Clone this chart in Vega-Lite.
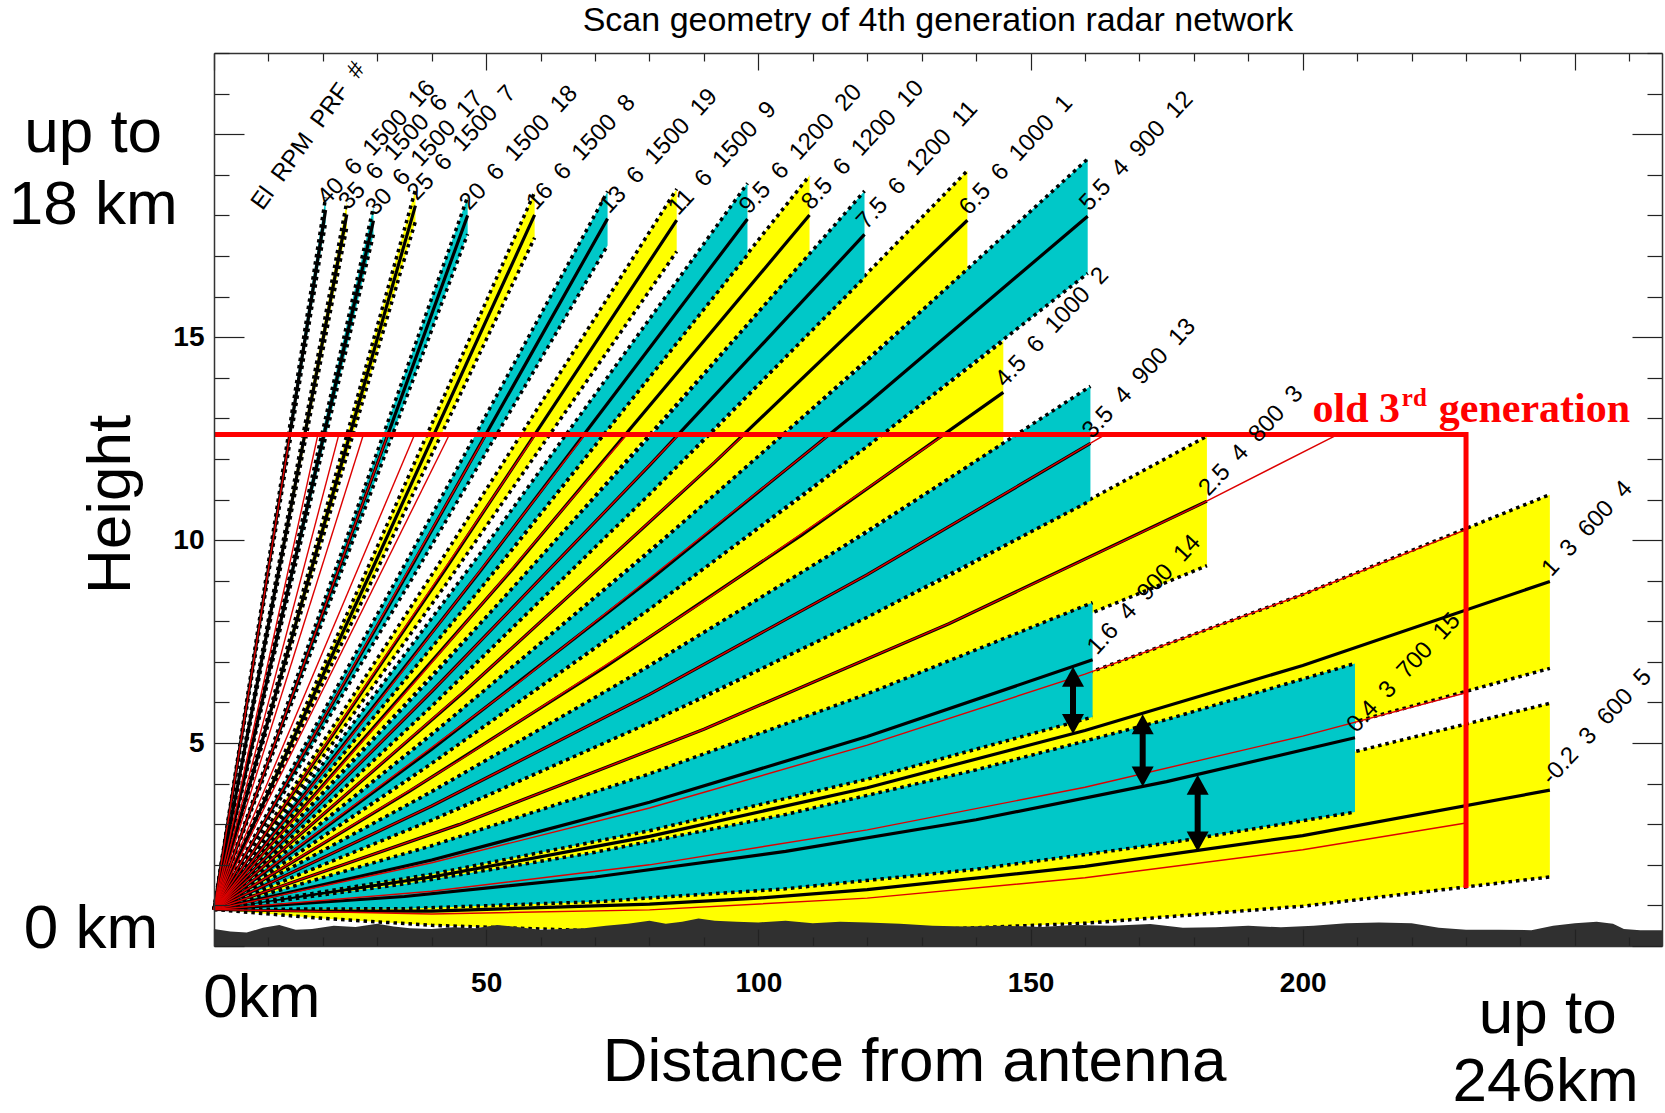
{
"$schema": "https://vega.github.io/schema/vega-lite/v6.json",
"width": 1448, "height": 893,
"autosize": "none",
"padding": {"left": 214, "top": 53, "right": 3, "bottom": 167},
"background": "white",
"config": {"view": {"stroke": null}, "font": "Liberation Sans"},
"datasets": {
"beams": [
{"b":"40","c":"c","x":0,"lo":0.9,"m":0.9,"hi":0.9},{"b":"40","c":"c","x":20.5,"lo":17.83,"m":18.13,"hi":18.44},
{"b":"35","c":"y","x":0,"lo":0.9,"m":0.9,"hi":0.9},{"b":"35","c":"y","x":24.4,"lo":17.71,"m":18.02,"hi":18.34},
{"b":"30","c":"c","x":0,"lo":0.9,"m":0.9,"hi":0.9},{"b":"30","c":"c","x":29.3,"lo":17.53,"m":17.87,"hi":18.21},
{"b":"25","c":"y","x":0,"lo":0.9,"m":0.9,"hi":0.9},{"b":"25","c":"y","x":37.0,"lo":17.85,"m":18.24,"hi":18.63},
{"b":"20","c":"c","x":0,"lo":0.9,"m":0.9,"hi":0.9},{"b":"20","c":"c","x":23.3,"lo":9.19,"m":9.42,"hi":9.65},{"b":"20","c":"c","x":46.6,"lo":17.54,"m":18.0,"hi":18.46},
{"b":"16","c":"y","x":0,"lo":0.9,"m":0.9,"hi":0.9},{"b":"16","c":"y","x":29.5,"lo":9.14,"m":9.41,"hi":9.69},{"b":"16","c":"y","x":58.9,"lo":17.45,"m":18.01,"hi":18.57},
{"b":"13","c":"c","x":0,"lo":0.9,"m":0.9,"hi":0.9},{"b":"13","c":"c","x":36,"lo":8.96,"m":9.29,"hi":9.63},{"b":"13","c":"c","x":72.3,"lo":17.26,"m":17.92,"hi":18.59},
{"b":"11","c":"y","x":0,"lo":0.9,"m":0.9,"hi":0.9},{"b":"11","c":"y","x":42.5,"lo":8.89,"m":9.28,"hi":9.66},{"b":"11","c":"y","x":85,"lo":17.11,"m":17.88,"hi":18.65},
{"b":"9.5","c":"c","x":0,"lo":0.9,"m":0.9,"hi":0.9},{"b":"9.5","c":"c","x":49,"lo":8.81,"m":9.25,"hi":9.69},{"b":"9.5","c":"c","x":98,"lo":17.03,"m":17.91,"hi":18.79},
{"b":"8.5","c":"y","x":0,"lo":0.9,"m":0.9,"hi":0.9},{"b":"8.5","c":"y","x":55,"lo":8.82,"m":9.31,"hi":9.8},{"b":"8.5","c":"y","x":109.4,"lo":17.03,"m":18.01,"hi":18.98},
{"b":"7.5","c":"c","x":0,"lo":0.9,"m":0.9,"hi":0.9},{"b":"7.5","c":"c","x":40,"lo":5.91,"m":6.27,"hi":6.62},{"b":"7.5","c":"c","x":80,"lo":11.13,"m":11.84,"hi":12.55},{"b":"7.5","c":"c","x":119.5,"lo":16.47,"m":17.53,"hi":18.6},
{"b":"6.5","c":"y","x":0,"lo":0.9,"m":0.9,"hi":0.9},{"b":"6.5","c":"y","x":46,"lo":5.87,"m":6.27,"hi":6.68},{"b":"6.5","c":"y","x":92,"lo":11.1,"m":11.92,"hi":12.73},{"b":"6.5","c":"y","x":138.4,"lo":16.65,"m":17.88,"hi":19.1},
{"b":"5.5","c":"c","x":0,"lo":0.9,"m":0.9,"hi":0.9},{"b":"5.5","c":"c","x":40,"lo":4.5,"m":4.85,"hi":5.21},{"b":"5.5","c":"c","x":80,"lo":8.3,"m":9.01,"hi":9.71},{"b":"5.5","c":"c","x":120,"lo":12.31,"m":13.36,"hi":14.42},{"b":"5.5","c":"c","x":160.5,"lo":16.57,"m":17.98,"hi":19.39},
{"b":"4.5","c":"y","x":0,"lo":0.9,"m":0.9,"hi":0.9},{"b":"4.5","c":"y","x":36,"lo":3.5,"m":3.82,"hi":4.13},{"b":"4.5","c":"y","x":72,"lo":6.26,"m":6.89,"hi":7.53},{"b":"4.5","c":"y","x":108,"lo":9.19,"m":10.13,"hi":11.08},{"b":"4.5","c":"y","x":145,"lo":12.37,"m":13.64,"hi":14.91},
{"b":"3.5","c":"c","x":0,"lo":0.9,"m":0.9,"hi":0.9},{"b":"3.5","c":"c","x":40,"lo":3.1,"m":3.45,"hi":3.8},{"b":"3.5","c":"c","x":80,"lo":5.5,"m":6.2,"hi":6.9},{"b":"3.5","c":"c","x":120,"lo":8.1,"m":9.15,"hi":10.2},{"b":"3.5","c":"c","x":161,"lo":10.97,"m":12.38,"hi":13.79},
{"b":"2.5","c":"y","x":0,"lo":0.9,"m":0.9,"hi":0.9},{"b":"2.5","c":"y","x":45,"lo":2.6,"m":2.99,"hi":3.39},{"b":"2.5","c":"y","x":90,"lo":4.55,"m":5.34,"hi":6.13},{"b":"2.5","c":"y","x":135,"lo":6.76,"m":7.94,"hi":9.12},{"b":"2.5","c":"y","x":182.4,"lo":9.37,"m":10.96,"hi":12.56},
{"b":"1.6","c":"c","x":0,"lo":0.9,"m":0.9,"hi":0.9},{"b":"1.6","c":"c","x":40,"lo":1.77,"m":2.12,"hi":2.47},{"b":"1.6","c":"c","x":80,"lo":2.84,"m":3.54,"hi":4.24},{"b":"1.6","c":"c","x":120,"lo":4.11,"m":5.16,"hi":6.21},{"b":"1.6","c":"c","x":161.4,"lo":5.64,"m":7.05,"hi":8.46},
{"b":"1.0","c":"y","x":0,"lo":0.9,"m":0.9,"hi":0.9},{"b":"1.0","c":"y","x":40,"lo":1.35,"m":1.7,"hi":2.05},{"b":"1.0","c":"y","x":80,"lo":2.0,"m":2.7,"hi":3.4},{"b":"1.0","c":"y","x":120,"lo":2.86,"m":3.9,"hi":4.95},{"b":"1.0","c":"y","x":160,"lo":3.91,"m":5.31,"hi":6.7},{"b":"1.0","c":"y","x":200,"lo":5.17,"m":6.91,"hi":8.66},{"b":"1.0","c":"y","x":245.4,"lo":6.84,"m":8.98,"hi":11.12},
{"b":"0.4","c":"c","x":0,"lo":0.9,"m":0.9,"hi":0.9},{"b":"0.4","c":"c","x":35,"lo":0.92,"m":1.22,"hi":1.53},{"b":"0.4","c":"c","x":70,"lo":1.09,"m":1.7,"hi":2.31},{"b":"0.4","c":"c","x":105,"lo":1.41,"m":2.33,"hi":3.24},{"b":"0.4","c":"c","x":140,"lo":1.89,"m":3.11,"hi":4.34},{"b":"0.4","c":"c","x":175,"lo":2.53,"m":4.05,"hi":5.58},{"b":"0.4","c":"c","x":209.6,"lo":3.3,"m":5.13,"hi":6.96},
{"b":"-0.2","c":"y","x":0,"lo":0.9,"m":0.9,"hi":0.9},{"b":"-0.2","c":"y","x":20,"lo":0.68,"m":0.86,"hi":1.04},{"b":"-0.2","c":"y","x":40,"lo":0.51,"m":0.86,"hi":1.21},{"b":"-0.2","c":"y","x":80,"lo":0.33,"m":1.03,"hi":1.72},{"b":"-0.2","c":"y","x":100,"lo":0.31,"m":1.18,"hi":2.05},{"b":"-0.2","c":"y","x":120,"lo":0.34,"m":1.39,"hi":2.44},{"b":"-0.2","c":"y","x":160,"lo":0.56,"m":1.96,"hi":3.35},{"b":"-0.2","c":"y","x":200,"lo":0.98,"m":2.72,"hi":4.47},{"b":"-0.2","c":"y","x":245.4,"lo":1.7,"m":3.84,"hi":5.98}
],
"red": [
{"e":"-0.3","x":0,"h":0.9},{"e":"-0.3","x":40,"h":0.79},{"e":"-0.3","x":80,"h":0.89},{"e":"-0.3","x":120,"h":1.18},{"e":"-0.3","x":160,"h":1.68},{"e":"-0.3","x":200,"h":2.37},{"e":"-0.3","x":230,"h":3.03},
{"e":"0.5","x":0,"h":0.9},{"e":"0.5","x":40,"h":1.35},{"e":"0.5","x":80,"h":2.0},{"e":"0.5","x":120,"h":2.86},{"e":"0.5","x":160,"h":3.91},{"e":"0.5","x":200,"h":5.17},{"e":"0.5","x":230,"h":6.24},
{"e":"1.5","x":0,"h":0.9},{"e":"1.5","x":40,"h":2.05},{"e":"1.5","x":80,"h":3.4},{"e":"1.5","x":120,"h":4.95},{"e":"1.5","x":160,"h":6.7},{"e":"1.5","x":200,"h":8.66},{"e":"1.5","x":230,"h":10.26},
{"e":"2.5","x":0,"h":0.9},{"e":"2.5","x":45,"h":2.99},{"e":"2.5","x":90,"h":5.34},{"e":"2.5","x":135,"h":7.94},{"e":"2.5","x":180,"h":10.8},{"e":"2.5","x":206.4,"h":12.6},
{"e":"3.5","x":0,"h":0.9},{"e":"3.5","x":40,"h":3.45},{"e":"3.5","x":80,"h":6.2},{"e":"3.5","x":120,"h":9.15},{"e":"3.5","x":163.7,"h":12.6},
{"e":"4.5","x":0,"h":0.9},{"e":"4.5","x":45,"h":4.57},{"e":"4.5","x":90,"h":8.49},{"e":"4.5","x":134.2,"h":12.6},
{"e":"5.5","x":0,"h":0.9},{"e":"5.5","x":56,"h":6.49},{"e":"5.5","x":113.1,"h":12.6},
{"e":"6.5","x":0,"h":0.9},{"e":"6.5","x":48.7,"h":6.6},{"e":"6.5","x":97.45,"h":12.6},
{"e":"7.5","x":0,"h":0.9},{"e":"7.5","x":42.7,"h":6.64},{"e":"7.5","x":85.4,"h":12.6},
{"e":"8.5","x":0,"h":0.9},{"e":"8.5","x":38,"h":6.67},{"e":"8.5","x":75.85,"h":12.6},
{"e":"9.5","x":0,"h":0.9},{"e":"9.5","x":34,"h":6.66},{"e":"9.5","x":68.15,"h":12.6},
{"e":"11","x":0,"h":0.9},{"e":"11","x":59.05,"h":12.6},
{"e":"13","x":0,"h":0.9},{"e":"13","x":50.0,"h":12.6},
{"e":"15","x":0,"h":0.9},{"e":"15","x":43.25,"h":12.6},
{"e":"17.5","x":0,"h":0.9},{"e":"17.5","x":36.85,"h":12.6},
{"e":"20","x":0,"h":0.9},{"e":"20","x":31.95,"h":12.6},
{"e":"23","x":0,"h":0.9},{"e":"23","x":27.45,"h":12.6},
{"e":"27","x":0,"h":0.9},{"e":"27","x":22.93,"h":12.6},
{"e":"31.5","x":0,"h":0.9},{"e":"31.5","x":19.09,"h":12.6},
{"e":"40","x":0,"h":0.9},{"e":"40","x":13.94,"h":12.6}
],
"terrain": [
{"x":0,"h":0.42},{"x":3,"h":0.36},{"x":6,"h":0.33},{"x":9,"h":0.45},{"x":12,"h":0.52},{"x":15,"h":0.4},{"x":18,"h":0.42},{"x":22,"h":0.5},{"x":26,"h":0.47},{"x":30,"h":0.55},{"x":33,"h":0.48},{"x":36,"h":0.44},{"x":40,"h":0.42},{"x":44,"h":0.46},{"x":48,"h":0.44},{"x":52,"h":0.52},{"x":56,"h":0.46},{"x":60,"h":0.4},{"x":64,"h":0.42},{"x":68,"h":0.44},{"x":72,"h":0.5},{"x":76,"h":0.55},{"x":80,"h":0.62},{"x":83,"h":0.55},{"x":86,"h":0.6},{"x":89,"h":0.68},{"x":92,"h":0.62},{"x":96,"h":0.6},{"x":100,"h":0.58},{"x":105,"h":0.62},{"x":110,"h":0.56},{"x":115,"h":0.6},{"x":120,"h":0.58},{"x":126,"h":0.55},{"x":132,"h":0.5},{"x":138,"h":0.48},{"x":145,"h":0.5},{"x":152,"h":0.47},{"x":158,"h":0.52},{"x":165,"h":0.5},{"x":172,"h":0.54},{"x":178,"h":0.45},{"x":184,"h":0.46},{"x":190,"h":0.5},{"x":196,"h":0.46},{"x":202,"h":0.5},{"x":208,"h":0.56},{"x":214,"h":0.58},{"x":220,"h":0.56},{"x":225,"h":0.45},{"x":230,"h":0.4},{"x":236,"h":0.4},{"x":242,"h":0.39},{"x":246,"h":0.5},{"x":250,"h":0.56},{"x":254,"h":0.6},{"x":257,"h":0.55},{"x":259,"h":0.42},{"x":262,"h":0.39},{"x":266,"h":0.39}
],
"labels": [
{"t":"40\u00a0\u00a06\u00a0\u00a01500\u00a0\u00a016","x":20.8,"y":18.23},
{"t":"35\u00a0\u00a06\u00a0\u00a01500\u00a0\u00a06","x":24.7,"y":18.12},
{"t":"30\u00a0\u00a06\u00a0\u00a01500\u00a0\u00a017","x":29.6,"y":17.97},
{"t":"25\u00a0\u00a06\u00a0\u00a01500\u00a0\u00a07","x":37.3,"y":18.34},
{"t":"20\u00a0\u00a06\u00a0\u00a01500\u00a0\u00a018","x":46.9,"y":18.1},
{"t":"16\u00a0\u00a06\u00a0\u00a01500\u00a0\u00a08","x":59.2,"y":18.11},
{"t":"13\u00a0\u00a06\u00a0\u00a01500\u00a0\u00a019","x":72.6,"y":18.02},
{"t":"11\u00a0\u00a06\u00a0\u00a01500\u00a0\u00a09","x":85.3,"y":17.98},
{"t":"9.5\u00a0\u00a06\u00a0\u00a01200\u00a0\u00a020","x":98.3,"y":18.01},
{"t":"8.5\u00a0\u00a06\u00a0\u00a01200\u00a0\u00a010","x":109.7,"y":18.11},
{"t":"7.5\u00a0\u00a06\u00a0\u00a01200\u00a0\u00a011","x":119.8,"y":17.63},
{"t":"6.5\u00a0\u00a06\u00a0\u00a01000\u00a0\u00a01","x":138.7,"y":17.98},
{"t":"5.5\u00a0\u00a04\u00a0\u00a0900\u00a0\u00a012","x":160.8,"y":18.08},
{"t":"4.5\u00a0\u00a06\u00a0\u00a01000\u00a0\u00a02","x":145.3,"y":13.74},
{"t":"3.5\u00a0\u00a04\u00a0\u00a0900\u00a0\u00a013","x":161.3,"y":12.48},
{"t":"2.5\u00a0\u00a04\u00a0\u00a0800\u00a0\u00a03","x":182.7,"y":11.06},
{"t":"1.6\u00a0\u00a04\u00a0\u00a0900\u00a0\u00a014","x":162.2,"y":7.15},
{"t":"1\u00a0\u00a03\u00a0\u00a0600\u00a0\u00a04","x":245.7,"y":9.08},
{"t":"0.4\u00a0\u00a03\u00a0\u00a0700\u00a0\u00a015","x":209.9,"y":5.23},
{"t":"-0.2\u00a0\u00a03\u00a0\u00a0600\u00a0\u00a05","x":245.7,"y":3.94}
],
"arrows": [
{"x":157.8,"lo":5.22,"hi":6.88,"slo":5.57,"shi":6.53},
{"x":170.6,"lo":3.93,"hi":5.71,"slo":4.28,"shi":5.36},
{"x":180.7,"lo":2.33,"hi":4.22,"slo":2.68,"shi":3.87}
],
"box": [{"x":0,"y":12.6,"o":1},{"x":230,"y":12.6,"o":2},{"x":230,"y":1.43,"o":3}],
"big": [
{"t":"up to","x":-22.2,"y":20.03},
{"t":"18 km","x":-22.2,"y":18.25},
{"t":"0 km","x":-22.6,"y":0.42},
{"t":"0km","x":8.8,"y":-1.28},
{"t":"up to","x":245.0,"y":-1.67},
{"t":"246km","x":244.6,"y":-3.36},
{"t":"Distance from antenna","x":128.7,"y":-2.86}
]
},
"layer": [
{"data":{"name":"beams"},"transform":[{"filter":"datum.c === 'y'"}],
 "mark":{"type":"area","color":"#ffff00","opacity":1},
 "encoding":{
  "x":{"field":"x","type":"quantitative","scale":{"domain":[0,266],"nice":false,"zero":false},
   "axis":{"orient":"bottom","values":[0,10,20,30,40,50,60,70,80,90,100,110,120,130,140,150,160,170,180,190,200,210,220,230,240,250,260],
    "tickSize":{"condition":{"test":"datum.value % 50 === 0","value":-17},"value":-9},
    "labelExpr":"(datum.value==50||datum.value==100||datum.value==150||datum.value==200) ? datum.label : ''",
    "labelFont":"Liberation Sans","labelFontSize":28,"labelFontWeight":"bold","labelColor":"#000","labelPadding":40,
    "labelOverlap":false,"labelFlush":false,"title":null,"grid":false,
    "domainColor":"#333","domainWidth":1.5,"tickColor":"#222","tickWidth":1.2,"zindex":1}},
  "y":{"field":"hi","type":"quantitative","scale":{"domain":[0,22],"nice":false,"zero":false},
   "axis":{"orient":"left","values":[0,1,2,3,4,5,6,7,8,9,10,11,12,13,14,15,16,17,18,19,20,21,22],
    "tickSize":{"condition":{"test":"datum.value % 5 === 0","value":-30},"value":-15},
    "labelExpr":"(datum.value==5||datum.value==10||datum.value==15) ? datum.label : ''",
    "labelFont":"Liberation Sans","labelFontSize":28,"labelFontWeight":"bold","labelColor":"#000","labelPadding":40,
    "labelOverlap":false,"labelFlush":false,"title":null,"grid":false,
    "domainColor":"#333","domainWidth":1.5,"tickColor":"#222","tickWidth":1.2,"zindex":1}},
  "y2":{"field":"lo"},
  "detail":{"field":"b"}}},
{"data":{"name":"beams"},"transform":[{"filter":"datum.c === 'y'"}],
 "mark":{"type":"line","color":"#000","strokeWidth":3.5,"strokeDash":[3.5,4]},
 "encoding":{"x":{"field":"x","type":"quantitative","scale":{"domain":[0,266],"nice":false,"zero":false},"axis":null},
  "y":{"field":"hi","type":"quantitative","scale":{"domain":[0,22],"nice":false,"zero":false},"axis":null},"detail":{"field":"b"}}},
{"data":{"name":"beams"},"transform":[{"filter":"datum.c === 'y'"}],
 "mark":{"type":"line","color":"#000","strokeWidth":3.5,"strokeDash":[3.5,4]},
 "encoding":{"x":{"field":"x","type":"quantitative","scale":{"domain":[0,266],"nice":false,"zero":false},"axis":null},
  "y":{"field":"lo","type":"quantitative","scale":{"domain":[0,22],"nice":false,"zero":false},"axis":null},"detail":{"field":"b"}}},
{"data":{"name":"beams"},"transform":[{"filter":"datum.c === 'y'"}],
 "mark":{"type":"line","color":"#000","strokeWidth":3.2},
 "encoding":{"x":{"field":"x","type":"quantitative","scale":{"domain":[0,266],"nice":false,"zero":false},"axis":null},
  "y":{"field":"m","type":"quantitative","scale":{"domain":[0,22],"nice":false,"zero":false},"axis":null},"detail":{"field":"b"}}},
{"data":{"name":"beams"},"transform":[{"filter":"datum.c === 'c'"}],
 "mark":{"type":"area","color":"#00c8c8","opacity":1},
 "encoding":{"x":{"field":"x","type":"quantitative","scale":{"domain":[0,266],"nice":false,"zero":false},"axis":null},
  "y":{"field":"hi","type":"quantitative","scale":{"domain":[0,22],"nice":false,"zero":false},"axis":null},
  "y2":{"field":"lo"},"detail":{"field":"b"}}},
{"data":{"name":"beams"},"transform":[{"filter":"datum.c === 'c'"}],
 "mark":{"type":"line","color":"#000","strokeWidth":3.5,"strokeDash":[3.5,4]},
 "encoding":{"x":{"field":"x","type":"quantitative","scale":{"domain":[0,266],"nice":false,"zero":false},"axis":null},
  "y":{"field":"hi","type":"quantitative","scale":{"domain":[0,22],"nice":false,"zero":false},"axis":null},"detail":{"field":"b"}}},
{"data":{"name":"beams"},"transform":[{"filter":"datum.c === 'c'"}],
 "mark":{"type":"line","color":"#000","strokeWidth":3.5,"strokeDash":[3.5,4]},
 "encoding":{"x":{"field":"x","type":"quantitative","scale":{"domain":[0,266],"nice":false,"zero":false},"axis":null},
  "y":{"field":"lo","type":"quantitative","scale":{"domain":[0,22],"nice":false,"zero":false},"axis":null},"detail":{"field":"b"}}},
{"data":{"name":"beams"},"transform":[{"filter":"datum.c === 'c'"}],
 "mark":{"type":"line","color":"#000","strokeWidth":3.2},
 "encoding":{"x":{"field":"x","type":"quantitative","scale":{"domain":[0,266],"nice":false,"zero":false},"axis":null},
  "y":{"field":"m","type":"quantitative","scale":{"domain":[0,22],"nice":false,"zero":false},"axis":null},"detail":{"field":"b"}}},
{"data":{"name":"red"},
 "mark":{"type":"line","color":"#dd0000","strokeWidth":1.4},
 "encoding":{"x":{"field":"x","type":"quantitative","scale":{"domain":[0,266],"nice":false,"zero":false},"axis":null},
  "y":{"field":"h","type":"quantitative","scale":{"domain":[0,22],"nice":false,"zero":false},"axis":null},"detail":{"field":"e"}}},
{"data":{"name":"terrain"},
 "mark":{"type":"area","color":"#303030","opacity":1},
 "encoding":{"x":{"field":"x","type":"quantitative","scale":{"domain":[0,266],"nice":false,"zero":false},"axis":null},
  "y":{"field":"h","type":"quantitative","scale":{"domain":[0,22],"nice":false,"zero":false},"axis":null},
  "y2":{"datum":0}}},
{"data":{"name":"box"},
 "mark":{"type":"line","color":"#ff0000","strokeWidth":5,"strokeJoin":"miter"},
 "encoding":{
  "x":{"field":"x","type":"quantitative","scale":{"domain":[0,266],"nice":false,"zero":false},
   "axis":{"orient":"top","values":[0,10,20,30,40,50,60,70,80,90,100,110,120,130,140,150,160,170,180,190,200,210,220,230,240,250,260],
    "tickSize":{"condition":{"test":"datum.value % 50 === 0","value":-17},"value":-8},
    "labels":false,"title":null,"grid":false,"domainColor":"#333","domainWidth":1.5,"tickColor":"#222","tickWidth":1.2,"zindex":1}},
  "y":{"field":"y","type":"quantitative","scale":{"domain":[0,22],"nice":false,"zero":false},
   "axis":{"orient":"right","values":[0,1,2,3,4,5,6,7,8,9,10,11,12,13,14,15,16,17,18,19,20,21,22],
    "tickSize":{"condition":{"test":"datum.value % 5 === 0","value":-30},"value":-15},
    "labels":false,"title":null,"grid":false,"domainColor":"#333","domainWidth":1.5,"tickColor":"#222","tickWidth":1.2,"zindex":1}},
  "order":{"field":"o"}}},
{"data":{"name":"arrows"},
 "mark":{"type":"rule","color":"#000","strokeWidth":6},
 "encoding":{"x":{"field":"x","type":"quantitative","scale":{"domain":[0,266],"nice":false,"zero":false},"axis":null},
  "y":{"field":"slo","type":"quantitative","scale":{"domain":[0,22],"nice":false,"zero":false},"axis":null},
  "y2":{"field":"shi"}}},
{"data":{"name":"arrows"},
 "mark":{"type":"point","shape":"M0,0L0.55,1L-0.55,1Z","size":1600,"filled":true,"color":"#000","opacity":1},
 "encoding":{"x":{"field":"x","type":"quantitative","scale":{"domain":[0,266],"nice":false,"zero":false},"axis":null},
  "y":{"field":"hi","type":"quantitative","scale":{"domain":[0,22],"nice":false,"zero":false},"axis":null}}},
{"data":{"name":"arrows"},
 "mark":{"type":"point","shape":"M0,0L0.55,-1L-0.55,-1Z","size":1600,"filled":true,"color":"#000","opacity":1},
 "encoding":{"x":{"field":"x","type":"quantitative","scale":{"domain":[0,266],"nice":false,"zero":false},"axis":null},
  "y":{"field":"lo","type":"quantitative","scale":{"domain":[0,22],"nice":false,"zero":false},"axis":null}}},
{"data":{"name":"labels"},
 "mark":{"type":"text","font":"Liberation Sans","fontSize":24,"angle":313,"align":"left","baseline":"alphabetic","color":"#000"},
 "encoding":{"x":{"field":"x","type":"quantitative","scale":{"domain":[0,266],"nice":false,"zero":false},"axis":null},
  "y":{"field":"y","type":"quantitative","scale":{"domain":[0,22],"nice":false,"zero":false},"axis":null},
  "text":{"field":"t"}}},
{"data":{"values":[{"t":"El\u00a0\u00a0RPM\u00a0\u00a0PRF\u00a0\u00a0#","x":8.9,"y":18.1}]},
 "mark":{"type":"text","font":"Liberation Sans","fontSize":24,"angle":306,"align":"left","baseline":"alphabetic","color":"#000"},
 "encoding":{"x":{"field":"x","type":"quantitative","scale":{"domain":[0,266],"nice":false,"zero":false},"axis":null},
  "y":{"field":"y","type":"quantitative","scale":{"domain":[0,22],"nice":false,"zero":false},"axis":null},
  "text":{"field":"t"}}},
{"data":{"name":"big"},
 "mark":{"type":"text","font":"Liberation Sans","fontSize":62,"align":"center","baseline":"middle","color":"#000"},
 "encoding":{"x":{"field":"x","type":"quantitative","scale":{"domain":[0,266],"nice":false,"zero":false},"axis":null},
  "y":{"field":"y","type":"quantitative","scale":{"domain":[0,22],"nice":false,"zero":false},"axis":null},
  "text":{"field":"t"}}},
{"data":{"values":[{"t":"Height","x":-18.9,"y":10.88}]},
 "mark":{"type":"text","font":"Liberation Sans","fontSize":62,"angle":270,"align":"center","baseline":"middle","color":"#000"},
 "encoding":{"x":{"field":"x","type":"quantitative","scale":{"domain":[0,266],"nice":false,"zero":false},"axis":null},
  "y":{"field":"y","type":"quantitative","scale":{"domain":[0,22],"nice":false,"zero":false},"axis":null},
  "text":{"field":"t"}}},
{"data":{"values":[{"t":"Scan geometry of 4th generation radar network","x":133,"y":22.78}]},
 "mark":{"type":"text","font":"Liberation Sans","fontSize":34,"align":"center","baseline":"middle","color":"#000"},
 "encoding":{"x":{"field":"x","type":"quantitative","scale":{"domain":[0,266],"nice":false,"zero":false},"axis":null},
  "y":{"field":"y","type":"quantitative","scale":{"domain":[0,22],"nice":false,"zero":false},"axis":null},
  "text":{"field":"t"}}},
{"data":{"values":[{"t":"old 3","x":201.8,"y":12.92},{"t":"generation","x":225.0,"y":12.92}]},
 "mark":{"type":"text","font":"Liberation Serif","fontSize":42,"fontWeight":"bold","align":"left","baseline":"alphabetic","color":"#ff0000"},
 "encoding":{"x":{"field":"x","type":"quantitative","scale":{"domain":[0,266],"nice":false,"zero":false},"axis":null},
  "y":{"field":"y","type":"quantitative","scale":{"domain":[0,22],"nice":false,"zero":false},"axis":null},
  "text":{"field":"t"}}},
{"data":{"values":[{"t":"rd","x":218.2,"y":13.3}]},
 "mark":{"type":"text","font":"Liberation Serif","fontSize":25,"fontWeight":"bold","align":"left","baseline":"alphabetic","color":"#ff0000"},
 "encoding":{"x":{"field":"x","type":"quantitative","scale":{"domain":[0,266],"nice":false,"zero":false},"axis":null},
  "y":{"field":"y","type":"quantitative","scale":{"domain":[0,22],"nice":false,"zero":false},"axis":null},
  "text":{"field":"t"}}}
]
}
